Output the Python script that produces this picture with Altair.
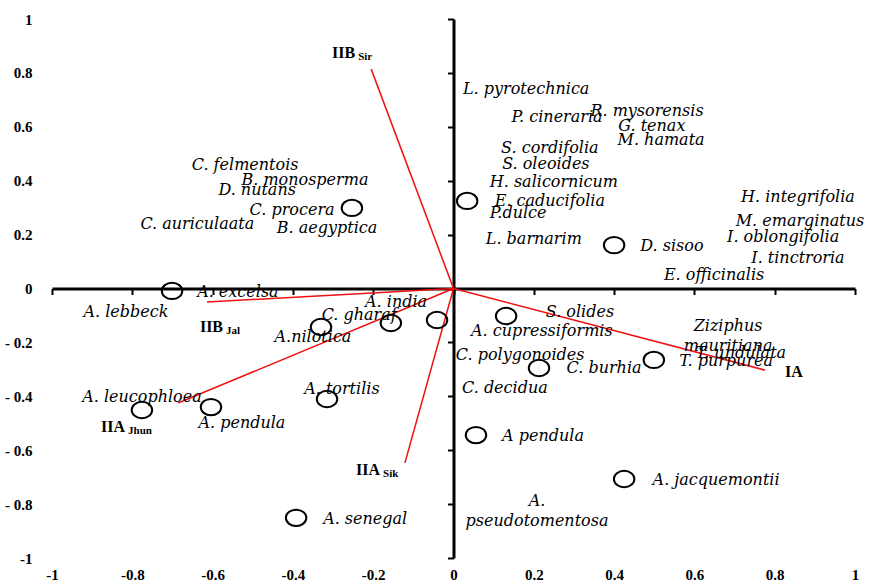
import altair as alt
import pandas as pd

# Circled species scores on the two ordination axes
pt_x = [-0.701, -0.253, 0.034, 0.400, -0.330, -0.156, -0.041, 0.131,
        0.213, 0.499, 0.056, 0.425, -0.776, -0.604, -0.315, -0.392]
pt_y = [-0.009, 0.299, 0.325, 0.161, -0.143, -0.128, -0.117, -0.102,
        -0.295, -0.265, -0.544, -0.707, -0.451, -0.440, -0.410, -0.851]

# Species names and where each name sits (label centre)
sp_names = [
    "C. felmentois", "B. monosperma", "D. nutans", "C. procera", "C. auriculaata",
    "B. aegyptica", "A. excelsa", "A. lebbeck", "A. india", "C. gharaf",
    "A.nilotica", "A. leucophloea", "A. pendula", "A. tortilis", "A. senegal",
    "L. pyrotechnica", "P. cineraria", "R. mysorensis", "G. tenax", "M. hamata",
    "S. cordifolia", "S. oleoides", "H. salicornicum", "E. caducifolia", "P.dulce",
    "L. barnarim", "D. sisoo", "H. integrifolia", "M. emarginatus", "I. oblongifolia",
    "I. tinctroria", "E. officinalis", "S. olides", "A. cupressiformis", "T. undulata",
    "T. purpurea", "C. polygonoides", "C. burhia", "C. decidua", "A pendula",
    "A. jacquemontii", "Ziziphus\nmauritiana", "A.\npseudotomentosa",
]
sp_x = [
    -0.519, -0.370, -0.489, -0.402, -0.638,
    -0.315, -0.537, -0.816, -0.143, -0.235,
    -0.350, -0.776, -0.527, -0.278, -0.220,
    0.181, 0.258, 0.482, 0.494, 0.517,
    0.240, 0.230, 0.250, 0.240, 0.161,
    0.200, 0.544, 0.858, 0.863, 0.821,
    0.858, 0.649, 0.315, 0.220, 0.716,
    0.679, 0.166, 0.375, 0.128, 0.223,
    0.654, 0.684, 0.208,
]
sp_y = [
    0.458, 0.401, 0.365, 0.291, 0.239,
    0.224, -0.013, -0.087, -0.050, -0.098,
    -0.180, -0.403, -0.499, -0.373, -0.855,
    0.740, 0.636, 0.659, 0.603, 0.551,
    0.521, 0.462, 0.395, 0.325, 0.280,
    0.184, 0.158, 0.340, 0.250, 0.191,
    0.113, 0.050, -0.087, -0.158, -0.239,
    -0.269, -0.247, -0.295, -0.370, -0.547,
    -0.711, -0.139, -0.787,
]

# Environmental vectors (arrow tips) and their labels
vec_main = ["IIB", "IIB", "IIA", "IIA", "IA"]
vec_sub = ["Sir", "Jal", "Jhun", "Sik", ""]
vec_x = [-0.205, -0.614, -0.686, -0.121, 0.776]
vec_y = [0.814, -0.050, -0.425, -0.647, -0.303]
vlab_x = [-0.245, -0.574, -0.818, -0.183, 0.870]
vlab_y = [0.855, -0.161, -0.532, -0.692, -0.328]

# Axis tick values
ticks = [-1, -0.8, -0.6, -0.4, -0.2, 0, 0.2, 0.4, 0.6, 0.8, 1]

W, H = 803, 539
SERIF = "Liberation Serif"
NAME_FONT = "DejaVu Serif"

points = pd.DataFrame({"x": pt_x, "y": pt_y})
species = pd.DataFrame({"name": sp_names, "x": sp_x, "y": sp_y})
vectors = pd.DataFrame({
    "x0": [0.0] * len(vec_x), "y0": [0.0] * len(vec_y),
    "x": vec_x, "y": vec_y,
    "main": vec_main, "sub": vec_sub, "lx": vlab_x, "ly": vlab_y,
})

xs = alt.Scale(domain=[-1, 1], nice=False, zero=False)
ys = alt.Scale(domain=[-1, 1], nice=False, zero=False)

x_label_expr = "datum.value < 0 ? '-' + format(-datum.value, '') : format(datum.value, '')"
y_label_expr = ("datum.value == -1 ? '-1' : (datum.value < 0 ? '- ' + format(-datum.value, '') "
                ": format(datum.value, ''))")

# Tick labels along the outer frame
x_lab_axis = alt.Axis(orient="bottom", values=ticks, domain=False, ticks=False, grid=False,
                      labelExpr=x_label_expr, labelFont=SERIF, labelFontWeight="bold",
                      labelFontSize=15, labelColor="black", labelPadding=9, title=None,
                      labelFlush=False, labelOverlap=False)
y_lab_axis = alt.Axis(orient="left", values=ticks, domain=False, ticks=False, grid=False,
                      labelExpr=y_label_expr, labelFont=SERIF, labelFontWeight="bold",
                      labelFontSize=15, labelColor="black", labelPadding=20, title=None,
                      labelFlush=False, labelOverlap=False)

# Axis lines crossing at the origin
x_zero_axis = alt.Axis(orient="bottom", offset=-H / 2, values=ticks, labels=False, grid=False,
                       domainColor="black", domainWidth=3, tickColor="black", tickWidth=2,
                       tickSize=6, title=None)
y_zero_axis = alt.Axis(orient="left", offset=-W / 2, values=ticks, labels=False, grid=False,
                       domainColor="black", domainWidth=3, tickColor="black", tickWidth=2,
                       tickSize=6, title=None)

vec_lines = alt.Chart(vectors).mark_rule(color="#ee1111", strokeWidth=1.5).encode(
    x=alt.X("x0:Q", scale=xs, axis=x_lab_axis),
    y=alt.Y("y0:Q", scale=ys, axis=y_lab_axis),
    x2="x:Q",
    y2="y:Q",
)

ellipse = "M -1 0 A 1 0.8 0 1 1 1 0 A 1 0.8 0 1 1 -1 0 Z"
circles = alt.Chart(points).mark_point(
    shape=ellipse, size=420, filled=False, stroke="black", strokeWidth=2, opacity=1
).encode(
    x=alt.X("x:Q", scale=xs, axis=x_zero_axis),
    y=alt.Y("y:Q", scale=ys, axis=y_zero_axis),
)

names = alt.Chart(species).mark_text(
    font=NAME_FONT, fontStyle="italic", fontSize=16, align="center", baseline="middle",
    color="black", lineBreak="\n", lineHeight=20,
).encode(
    x=alt.X("x:Q", scale=xs, axis=None),
    y=alt.Y("y:Q", scale=ys, axis=None),
    text="name:N",
)

vec_main_text = alt.Chart(vectors).mark_text(
    font=SERIF, fontWeight="bold", fontSize=16, align="right", baseline="alphabetic",
    color="black",
).encode(
    x=alt.X("lx:Q", scale=xs, axis=None),
    y=alt.Y("ly:Q", scale=ys, axis=None),
    text="main:N",
)

vec_sub_text = alt.Chart(vectors).mark_text(
    font=SERIF, fontWeight="bold", fontSize=11, align="left", baseline="alphabetic",
    color="black", dx=3, dy=2,
).encode(
    x=alt.X("lx:Q", scale=xs, axis=None),
    y=alt.Y("ly:Q", scale=ys, axis=None),
    text="sub:N",
)

chart = alt.layer(
    vec_lines, circles, names, vec_main_text, vec_sub_text
).resolve_axis(
    x="independent", y="independent"
).properties(
    width=W, height=H,
    autosize=alt.AutoSizeParams(type="none"),
    padding={"left": 52, "top": 19, "right": 16, "bottom": 27},
    background="white",
).configure_view(stroke=None)

chart.save("out.html", embed_options={"renderer": "svg", "actions": False})
